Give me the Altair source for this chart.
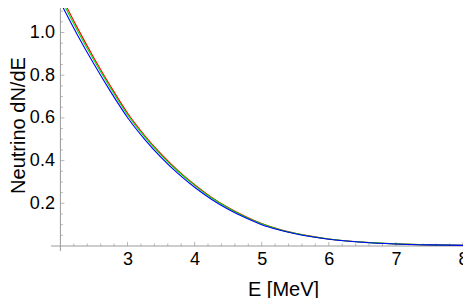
import altair as alt
import pandas as pd

# Energy grid (MeV) and the three spectra
energy = [2.0, 2.25, 2.5, 2.75, 3.0, 3.25, 3.5, 3.75, 4.0, 4.25, 4.5, 4.75,
          5.0, 5.25, 5.5, 5.75, 6.0, 6.5, 7.0, 7.5, 8.0]
flux_red = [1.178, 1.024, 0.881, 0.747, 0.623, 0.520, 0.431, 0.354, 0.287, 0.229, 0.180, 0.139,
            0.105, 0.079, 0.060, 0.045, 0.033, 0.0185, 0.010, 0.0055, 0.003]
flux_green = [1.163, 1.011, 0.870, 0.738, 0.615, 0.513, 0.426, 0.350, 0.284, 0.226, 0.178, 0.137,
              0.104, 0.078, 0.059, 0.044, 0.033, 0.018, 0.010, 0.0054, 0.003]
flux_blue = [1.141, 0.991, 0.852, 0.722, 0.602, 0.502, 0.415, 0.340, 0.275, 0.219, 0.172, 0.133,
             0.100, 0.076, 0.057, 0.043, 0.032, 0.0178, 0.0096, 0.0053, 0.0029]
series_values = [flux_red, flux_green, flux_blue]
series_colors = ["#ff0000", "#00dd00", "#0000ff"]

# Axis ranges and ticks
x_range = [1.86, 8.0]
y_range = [-0.0234, 1.1475]
x_origin = 2.0
y_origin = 0.0
x_major = [3, 4, 5, 6, 7, 8]
x_minor = [2.2, 2.4, 2.6, 2.8, 3.2, 3.4, 3.6, 3.8, 4.2, 4.4, 4.6, 4.8,
           5.2, 5.4, 5.6, 5.8, 6.2, 6.4, 6.6, 6.8, 7.2, 7.4, 7.6, 7.8]
y_major = [0.2, 0.4, 0.6, 0.8, 1.0]
y_minor = [0.05, 0.1, 0.15, 0.25, 0.3, 0.35, 0.45, 0.5, 0.55, 0.65, 0.7, 0.75,
           0.85, 0.9, 0.95, 1.05, 1.1]

FONT = "Liberation Sans"
AXIS_GRAY = "#9a9a9a"
W, H = 412, 250

xscale = alt.Scale(domain=x_range, nice=False, zero=False)
yscale = alt.Scale(domain=y_range, nice=False, zero=False)

x_axis = alt.Axis(values=x_major, ticks=False, domain=False, grid=False, offset=-5,
                  labelFontSize=18, labelFont=FONT, labelColor="#000000", labelFlush=False,
                  labelPadding=4, title="E [MeV]", titleFont=FONT, titleFontSize=20,
                  titleFontWeight="normal", titleColor="#000000", titleX=232, titleY=49,
                  titleAlign="center", titleBaseline="alphabetic")
y_axis = alt.Axis(values=y_major, format=".1f", ticks=False, domain=False, grid=False, offset=-9.4,
                  labelFontSize=18, labelFont=FONT, labelColor="#000000", labelPadding=6,
                  title="Neutrino dN/dE", titleFont=FONT, titleFontSize=20,
                  titleFontWeight="normal", titleColor="#000000", titleX=-36, titleY=124,
                  titleAngle=270, titleAlign="center", titleBaseline="alphabetic")


def xenc(field):
    return alt.X(field, type="quantitative", scale=xscale, axis=x_axis)


def yenc(field):
    return alt.Y(field, type="quantitative", scale=yscale, axis=y_axis)


layers = []

# axis lines
xline_df = pd.DataFrame({"x0": [x_range[0]], "x1": [x_range[1]], "y": [y_origin]})
yline_df = pd.DataFrame({"x": [x_origin], "y0": [y_range[0]], "y1": [y_range[1]]})
layers.append(alt.Chart(xline_df).mark_rule(color=AXIS_GRAY, strokeWidth=1).encode(
    x=xenc("x0"), x2="x1:Q", y=yenc("y")))
layers.append(alt.Chart(yline_df).mark_rule(color=AXIS_GRAY, strokeWidth=1).encode(
    x=xenc("x"), y=yenc("y0"), y2="y1:Q"))

# ticks (pointing into the plot)
for vals, size in [(x_major, 4), (x_minor, 2.5)]:
    df = pd.DataFrame({"x": vals, "y": [y_origin] * len(vals)})
    layers.append(alt.Chart(df).mark_tick(orient="vertical", size=size, thickness=1,
                                          color=AXIS_GRAY, yOffset=-size / 2).encode(
        x=xenc("x"), y=yenc("y")))
for vals, size in [(y_major, 4), (y_minor, 2.5)]:
    df = pd.DataFrame({"x": [x_origin] * len(vals), "y": vals})
    layers.append(alt.Chart(df).mark_tick(orient="horizontal", size=size, thickness=1,
                                          color=AXIS_GRAY, xOffset=size / 2).encode(
        x=xenc("x"), y=yenc("y")))

# curves
for vals, col in zip(series_values, series_colors):
    df = pd.DataFrame({"E": energy, "N": vals})
    layers.append(alt.Chart(df).mark_line(color=col, strokeWidth=1.1, clip=True,
                                          interpolate="monotone").encode(
        x=xenc("E"), y=yenc("N")))

chart = alt.layer(*layers).properties(
    width=W, height=H,
    padding={"left": 0, "top": -8, "right": -6, "bottom": -1},
).configure(font=FONT, background="white").configure_view(stroke=None)

chart.save("out.html", embed_options={"renderer": "svg", "actions": False})
